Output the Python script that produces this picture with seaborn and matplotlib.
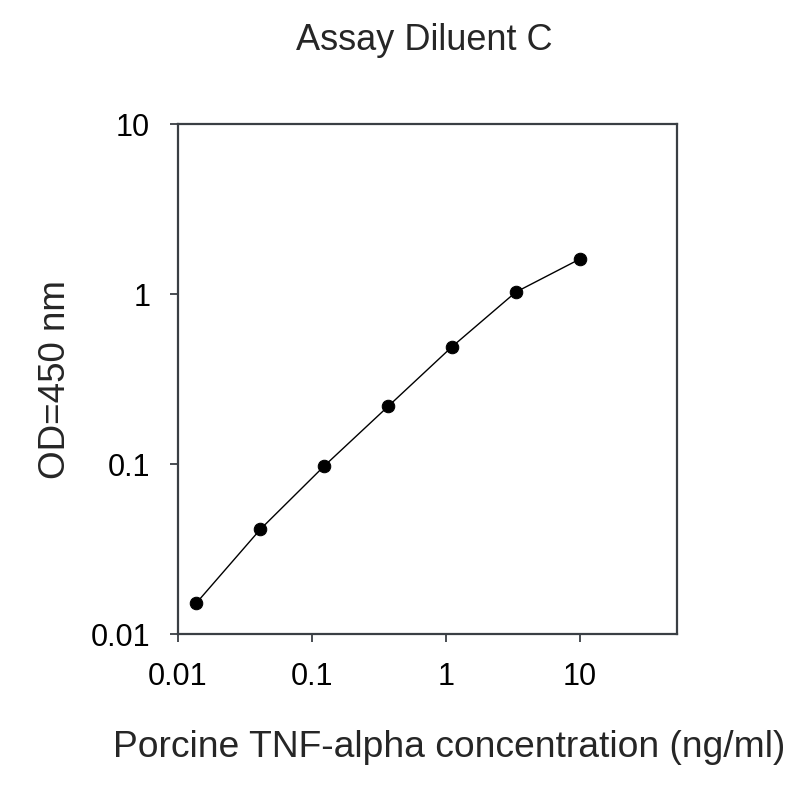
import numpy as np
import pandas as pd
import seaborn as sns
import matplotlib
matplotlib.use("Agg")
import matplotlib.pyplot as plt
from matplotlib.ticker import FixedLocator, FixedFormatter, NullLocator

# standard curve, 3-fold dilutions
conc = [0.0137, 0.0412, 0.123, 0.370, 1.11, 3.33, 10.0]
od = [0.0152, 0.0413, 0.097, 0.218, 0.489, 1.026, 1.605]

x_ticks = [0.01, 0.1, 1, 10]
x_tick_labels = ["0.01", "0.1", "1", "10"]
y_ticks = [0.01, 0.1, 1, 10]
y_tick_labels = ["0.01", "0.1", "1", "10"]

sns.set_style("ticks")
plt.rcParams["font.family"] = ["Liberation Sans", "DejaVu Sans"]

df = pd.DataFrame({"conc": conc, "od": od})

fig = plt.figure(figsize=(8, 8), dpi=100)
ax = fig.add_axes([0.2225, 0.2075, 0.846 - 0.2225, 0.845 - 0.2075])

sns.lineplot(data=df, x="conc", y="od", ax=ax, color="black", linewidth=1.0,
             marker="o", markersize=9, markeredgecolor="black")

ax.set_xscale("log")
ax.set_yscale("log")
ax.set_xlim(0.01, 53)
ax.set_ylim(0.01, 10)

ax.xaxis.set_major_locator(FixedLocator(x_ticks))
ax.xaxis.set_major_formatter(FixedFormatter(x_tick_labels))
ax.yaxis.set_major_locator(FixedLocator(y_ticks))
ax.yaxis.set_major_formatter(FixedFormatter(y_tick_labels))
ax.xaxis.set_minor_locator(NullLocator())
ax.yaxis.set_minor_locator(NullLocator())

for side in ["top", "right", "left", "bottom"]:
    ax.spines[side].set_visible(True)
    ax.spines[side].set_color("#3a3f44")
    ax.spines[side].set_linewidth(1.6)

ax.tick_params(axis="both", which="major", length=6, width=1.3, color="#3a3f44",
               labelsize=22, labelcolor="black", direction="out")
ax.tick_params(axis="x", pad=14)
ax.tick_params(axis="y", pad=14)

ax.set_xlabel("")
ax.set_ylabel("")

fig.text(0.531, 0.949, "Assay Diluent C", ha="center", va="center", fontsize=26)
fig.text(0.561, 0.066, "Porcine TNF-alpha concentration (ng/ml)",
         ha="center", va="center", fontsize=26.8)
fig.text(0.069, 0.526, "OD=450 nm", ha="center", va="center", rotation=90,
         fontsize=26.5)

fig.savefig("out.png", dpi=100, facecolor="white")
